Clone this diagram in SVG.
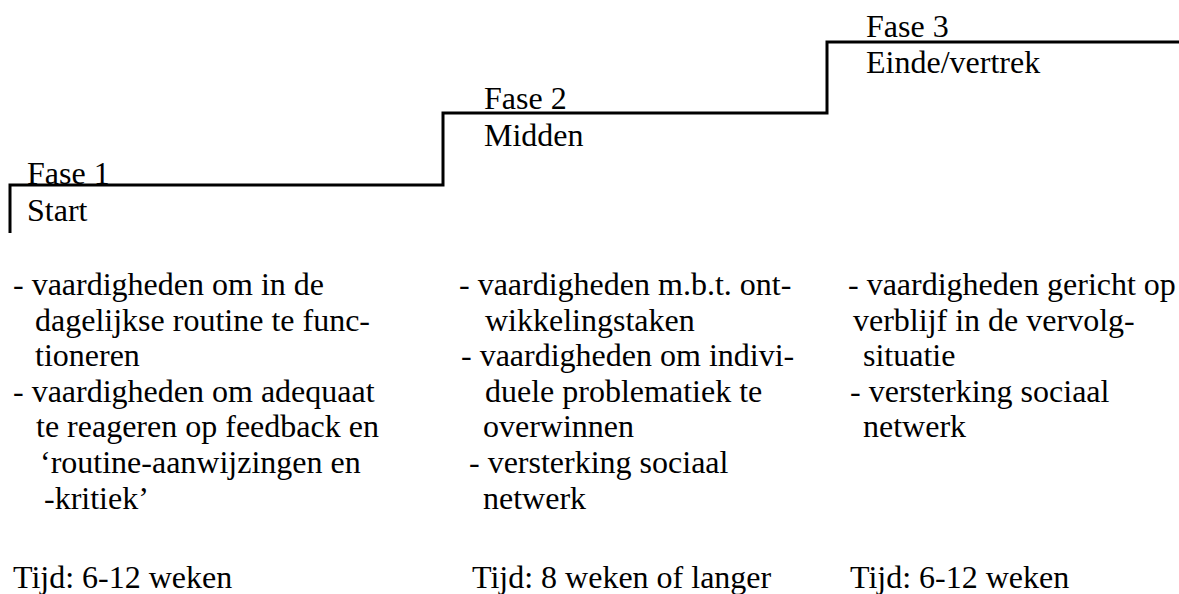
<svg xmlns="http://www.w3.org/2000/svg" width="1179" height="594" viewBox="0 0 1179 594">
<style>
  .t { font-family: 'Liberation Serif', 'Times New Roman', serif; font-size: 32px; fill: #000; }
  .step { fill: none; stroke: #000; stroke-width: 3; stroke-linejoin: miter; stroke-linecap: butt; }
</style>
<rect width="1179" height="594" fill="#fff"/>
<g id="connectors">
  <path class="step" d="M10,233 V185 H443 V113 H827 V42 H1179"/>
</g>
<g id="phase1" class="t">
  <text x="27" y="184">Fase 1</text>
  <text x="27" y="221">Start</text>
  <text x="13" y="295">- vaardigheden om in de</text>
  <text x="35" y="330.6">dagelijkse routine te func-</text>
  <text x="35" y="366.2">tioneren</text>
  <text x="13" y="401.8">- vaardigheden om adequaat</text>
  <text x="36" y="437.4">te reageren op feedback en</text>
  <text x="40" y="473">‘routine-aanwijzingen en</text>
  <text x="44" y="508.6">-kritiek’</text>
  <text x="13" y="588">Tijd: 6-12 weken</text>
</g>
<g id="phase2" class="t">
  <text x="484" y="109">Fase 2</text>
  <text x="484" y="146">Midden</text>
  <text x="459" y="295">- vaardigheden m.b.t. ont-</text>
  <text x="485" y="330.6">wikkelingstaken</text>
  <text x="461" y="366.2">- vaardigheden om indivi-</text>
  <text x="485" y="401.8">duele problematiek te</text>
  <text x="483" y="437.4">overwinnen</text>
  <text x="469" y="473">- versterking sociaal</text>
  <text x="483" y="508.6">netwerk</text>
  <text x="472" y="588">Tijd: 8 weken of langer</text>
</g>
<g id="phase3" class="t">
  <text x="866" y="37">Fase 3</text>
  <text x="866" y="73">Einde/vertrek</text>
  <text x="848" y="295">- vaardigheden gericht op</text>
  <text x="853" y="330.6">verblijf in de vervolg-</text>
  <text x="863" y="366.2">situatie</text>
  <text x="850" y="401.8">- versterking sociaal</text>
  <text x="863" y="437.4">netwerk</text>
  <text x="850" y="588">Tijd: 6-12 weken</text>
</g>
</svg>
